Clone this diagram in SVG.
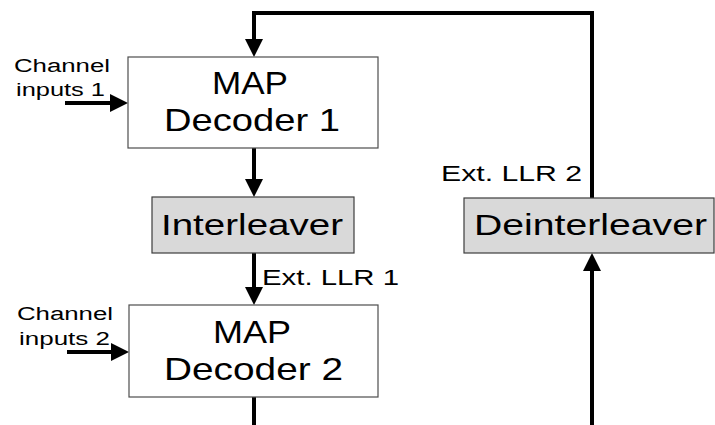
<svg xmlns="http://www.w3.org/2000/svg" width="715" height="425" viewBox="0 0 715 425">
  <style>
    .box { fill: #ffffff; stroke: #4d4d4d; stroke-width: 1.2; }
    .grey { fill: #d9d9d9; stroke: #3d3d3d; stroke-width: 1.2; }
    .wire { fill: none; stroke: #000000; stroke-width: 4; }
    .t { font-family: "Liberation Sans", Arial, sans-serif; fill: #000000; }
    .big { font-size: 30.5px; }
    .mid { font-size: 30px; }
    .lbl { font-size: 22px; }
    .sm { font-size: 18px; }
  </style>
  <defs>
    <marker id="arrow" markerUnits="userSpaceOnUse" markerWidth="18" markerHeight="18" refX="0" refY="9" orient="auto">
      <path d="M0,0 L18,9 L0,18 z" fill="#000000"/>
    </marker>
  </defs>

  <g id="connectors">
    <!-- feedback loop from the deinterleaver back to decoder 1 -->
    <polyline class="wire" points="592,198 592,13 254,13 254,39" marker-end="url(#arrow)"/>
    <!-- decoder 1 to interleaver -->
    <line class="wire" x1="254" y1="148" x2="254" y2="179" marker-end="url(#arrow)"/>
    <!-- interleaver to decoder 2 -->
    <line class="wire" x1="254" y1="253" x2="254" y2="287" marker-end="url(#arrow)"/>
    <!-- decoder 2 output -->
    <line class="wire" x1="254" y1="397" x2="254" y2="425"/>
    <!-- input to deinterleaver -->
    <line class="wire" x1="592" y1="425" x2="592" y2="271" marker-end="url(#arrow)"/>
    <!-- channel inputs -->
    <line class="wire" x1="65" y1="103" x2="110" y2="103" marker-end="url(#arrow)"/>
    <line class="wire" x1="67" y1="352" x2="111" y2="352" marker-end="url(#arrow)"/>
  </g>

  <g id="decoder1">
    <rect class="box" x="128" y="57" width="250" height="91"/>
    <text class="t big" x="212" y="93.5" textLength="76" lengthAdjust="spacingAndGlyphs">MAP</text>
    <text class="t big" x="164" y="131" textLength="176" lengthAdjust="spacingAndGlyphs">Decoder 1</text>
  </g>

  <g id="interleaver">
    <rect class="grey" x="152" y="197" width="202" height="56"/>
    <text class="t mid" x="161" y="235" textLength="182" lengthAdjust="spacingAndGlyphs">Interleaver</text>
  </g>

  <g id="decoder2">
    <rect class="box" x="129" y="305" width="249" height="92"/>
    <text class="t big" x="213" y="342.5" textLength="78" lengthAdjust="spacingAndGlyphs">MAP</text>
    <text class="t big" x="164" y="380" textLength="179" lengthAdjust="spacingAndGlyphs">Decoder 2</text>
  </g>

  <g id="deinterleaver">
    <rect class="grey" x="464" y="198" width="250" height="55"/>
    <text class="t mid" x="474" y="235" textLength="233" lengthAdjust="spacingAndGlyphs">Deinterleaver</text>
  </g>

  <g id="labels">
    <text class="t lbl" x="262" y="285" textLength="137" lengthAdjust="spacingAndGlyphs">Ext. LLR 1</text>
    <text class="t lbl" x="441" y="180.5" textLength="141" lengthAdjust="spacingAndGlyphs">Ext. LLR 2</text>
    <text class="t sm" x="14" y="72" textLength="96" lengthAdjust="spacingAndGlyphs">Channel</text>
    <text class="t sm" x="16" y="96" textLength="89" lengthAdjust="spacingAndGlyphs">inputs 1</text>
    <text class="t sm" x="17" y="320" textLength="96" lengthAdjust="spacingAndGlyphs">Channel</text>
    <text class="t sm" x="19" y="345" textLength="91" lengthAdjust="spacingAndGlyphs">inputs 2</text>
  </g>
</svg>
